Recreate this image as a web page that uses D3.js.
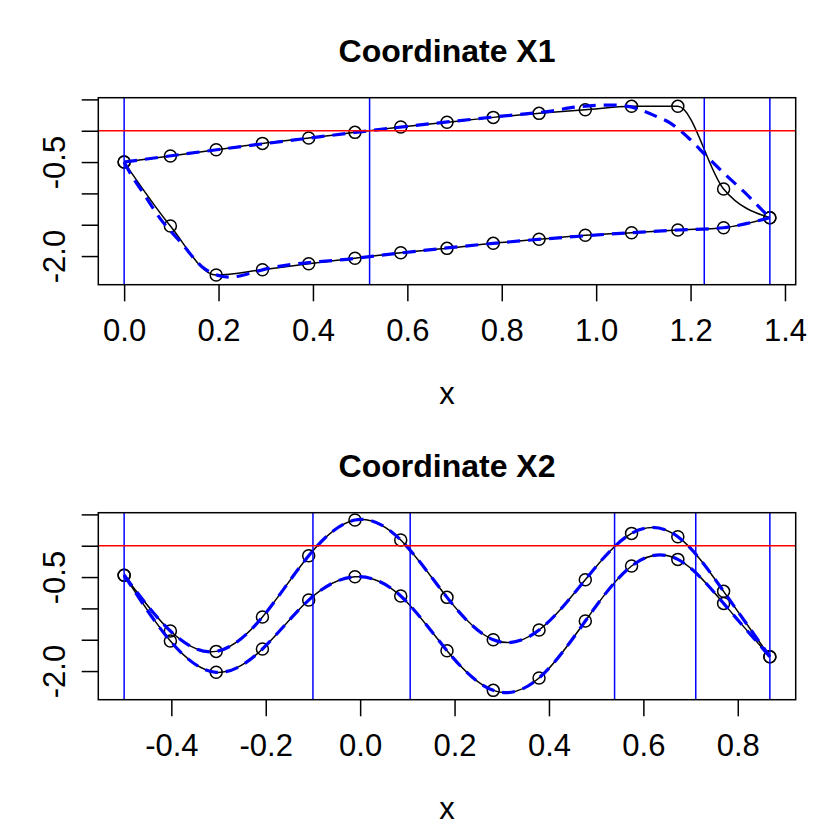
<!DOCTYPE html>
<html>
<head>
<meta charset="utf-8">
<script src="https://cdn.jsdelivr.net/npm/d3@7"></script>
<style>
  body { margin: 0; background: #fff; }
  svg text { font-family: "Liberation Sans", Arial, Helvetica, sans-serif; fill: #000; }
</style>
</head>
<body>
<svg id="chart" width="830" height="830"></svg>
<script>
// ---- data ----
const xTop = [0, 0.098, 0.195, 0.293, 0.391, 0.489, 0.586, 0.684, 0.782, 0.879, 0.977, 1.075, 1.173, 1.270, 1.368];
const upperTop = [-0.5, -0.404, -0.303, -0.202, -0.117, -0.026, 0.059, 0.134, 0.213, 0.277, 0.335, 0.389, 0.389, -0.930, -1.388];
const lowerTop = [-0.5, -1.521, -2.303, -2.218, -2.122, -2.036, -1.947, -1.877, -1.797, -1.733, -1.669, -1.627, -1.584, -1.548, -1.388];

// smoothed fit (blue dashed), top panel
const fitUpperTop = [[0, -0.5], [0.2, -0.3], [0.4, -0.11], [0.6, 0.07], [0.8, 0.232], [0.9, 0.31],
  [0.96, 0.38], [1.03, 0.41], [1.074, 0.38], [1.094, 0.33], [1.129, 0.223], [1.158, 0.118],
  [1.193, -0.096], [1.235, -0.415], [1.271, -0.68], [1.313, -0.973], [1.355, -1.292], [1.368, -1.388]];
const fitLowerTop = [[0, -0.5], [0.009, -0.627], [0.041, -1.0], [0.076, -1.398], [0.122, -1.797],
  [0.165, -2.17], [0.2035, -2.318], [0.225, -2.335], [0.267, -2.276], [0.293, -2.22], [0.489, -2.036],
  [0.782, -1.797], [1.075, -1.627], [1.173, -1.584], [1.270, -1.548], [1.32, -1.478], [1.368, -1.388]];

const xBot = [-0.5, -0.402, -0.305, -0.207, -0.109, -0.011, 0.086, 0.184, 0.282, 0.379, 0.477, 0.575, 0.673, 0.770, 0.868];
const curveABot = [-0.47, -1.361, -1.686, -1.138, -0.160, 0.410, 0.091, -0.824, -1.500, -1.345, -0.542, 0.197, 0.144, -0.728, -1.771];
const curveBBot = [-0.47, -1.521, -2.020, -1.648, -0.867, -0.495, -0.803, -1.675, -2.308, -2.111, -1.202, -0.324, -0.218, -0.920, -1.771];

const vLinesTop = [0, 0.52, 1.229, 1.368];
const vLinesBot = [-0.5, -0.1, 0.106, 0.539, 0.711, 0.868];
const hLine = 0;

const xTicksTop = [0, 0.2, 0.4, 0.6, 0.8, 1.0, 1.2, 1.4];
const xTicksBot = [-0.4, -0.2, 0, 0.2, 0.4, 0.6, 0.8];
const yTicks = [-2.0, -1.5, -1.0, -0.5, 0.0, 0.5];
const yLabelled = [-2.0, -0.5];
const yLim = [-2.457, 0.527];

// ---- layout (R-like base graphics) ----
const box = { left: 98.3, right: 795.7, top: 97.7, bottom: 284.7 };
const panelH = 415;
const lineH = 33.2;          // one margin line
const tickLen = 16.6;
const fs = 31;               // axis text size
const fmt = d => d.toFixed(1);   // plain hyphen minus like R

const svg = d3.select("#chart");

function panel(offsetY, title, xs, series, fits, fitCurve, lineCurve, vLines, xTicks) {
  const g = svg.append("g").attr("transform", `translate(0,${offsetY})`);
  const ext = d3.extent(xs), r = ext[1] - ext[0];
  const x = d3.scaleLinear().domain([ext[0] - 0.04 * r, ext[1] + 0.04 * r]).range([box.left, box.right]);
  const y = d3.scaleLinear().domain(yLim).range([box.bottom, box.top]);

  // points
  series.forEach(vals => {
    g.append("g").selectAll("circle").data(vals).join("circle")
      .attr("cx", (d, i) => x(xs[i])).attr("cy", d => y(d))
      .attr("r", 6).attr("fill", "none").attr("stroke", "#000").attr("stroke-width", 1.5);
  });

  // interpolating lines (black)
  const line = d3.line().x(d => x(d[0])).y(d => y(d[1])).curve(lineCurve);
  series.forEach(vals => {
    g.append("path").datum(vals.map((v, i) => [xs[i], v])).attr("d", line)
      .attr("fill", "none").attr("stroke", "#000").attr("stroke-width", 1.5);
  });

  // smoothed fit (blue dashed)
  const fitLine = d3.line().x(d => x(d[0])).y(d => y(d[1])).curve(fitCurve);
  fits.forEach(pts => {
    g.append("path").datum(pts).attr("d", fitLine)
      .attr("fill", "none").attr("stroke", "#0000ff").attr("stroke-width", 3.2)
      .attr("stroke-dasharray", "13,8");
  });

  // reference lines
  g.selectAll(".vline").data(vLines).join("line")
    .attr("x1", d => x(d)).attr("x2", d => x(d))
    .attr("y1", box.top).attr("y2", box.bottom)
    .attr("stroke", "#0000ff").attr("stroke-width", 1.5);
  g.append("line").attr("x1", box.left).attr("x2", box.right)
    .attr("y1", y(hLine)).attr("y2", y(hLine))
    .attr("stroke", "#ff0000").attr("stroke-width", 1.5);

  // axes
  const ax = g.append("g").attr("transform", `translate(0,${box.bottom})`)
    .call(d3.axisBottom(x).tickValues(xTicks).tickFormat(fmt).tickSize(tickLen).tickPadding(17.7));
  const ay = g.append("g").attr("transform", `translate(${box.left},0)`)
    .call(d3.axisLeft(y).tickValues(yTicks).tickSize(tickLen)
      .tickFormat(d => yLabelled.some(v => Math.abs(v - d) < 1e-9) ? fmt(d) : ""));
  [ax, ay].forEach(a => {
    a.select(".domain").remove();
    a.selectAll(".tick line").attr("stroke", "#000").attr("stroke-width", 1.5);
    a.selectAll(".tick text").style("font-size", fs + "px");
  });
  ay.selectAll(".tick text")
    .attr("transform", "rotate(-90)").attr("x", 0).attr("y", -lineH).attr("dy", 0)
    .attr("text-anchor", "middle");

  // frame
  g.append("rect").attr("x", box.left).attr("y", box.top)
    .attr("width", box.right - box.left).attr("height", box.bottom - box.top)
    .attr("fill", "none").attr("stroke", "#000").attr("stroke-width", 1.5);

  // titles
  const cx = (box.left + box.right) / 2;
  g.append("text").attr("x", cx).attr("y", 62).attr("text-anchor", "middle")
    .style("font-size", "32px").style("font-weight", "bold").text(title);
  g.append("text").attr("x", cx).attr("y", 404).attr("text-anchor", "middle")
    .style("font-size", fs + "px").text("x");
}

panel(0, "Coordinate X1", xTop, [upperTop, lowerTop], [fitUpperTop, fitLowerTop],
  d3.curveMonotoneX, d3.curveMonotoneX, vLinesTop, xTicksTop);

panel(panelH, "Coordinate X2", xBot, [curveABot, curveBBot],
  [curveABot.map((v, i) => [xBot[i], v]), curveBBot.map((v, i) => [xBot[i], v])],
  d3.curveNatural, d3.curveNatural, vLinesBot, xTicksBot);
</script>
</body>
</html>
